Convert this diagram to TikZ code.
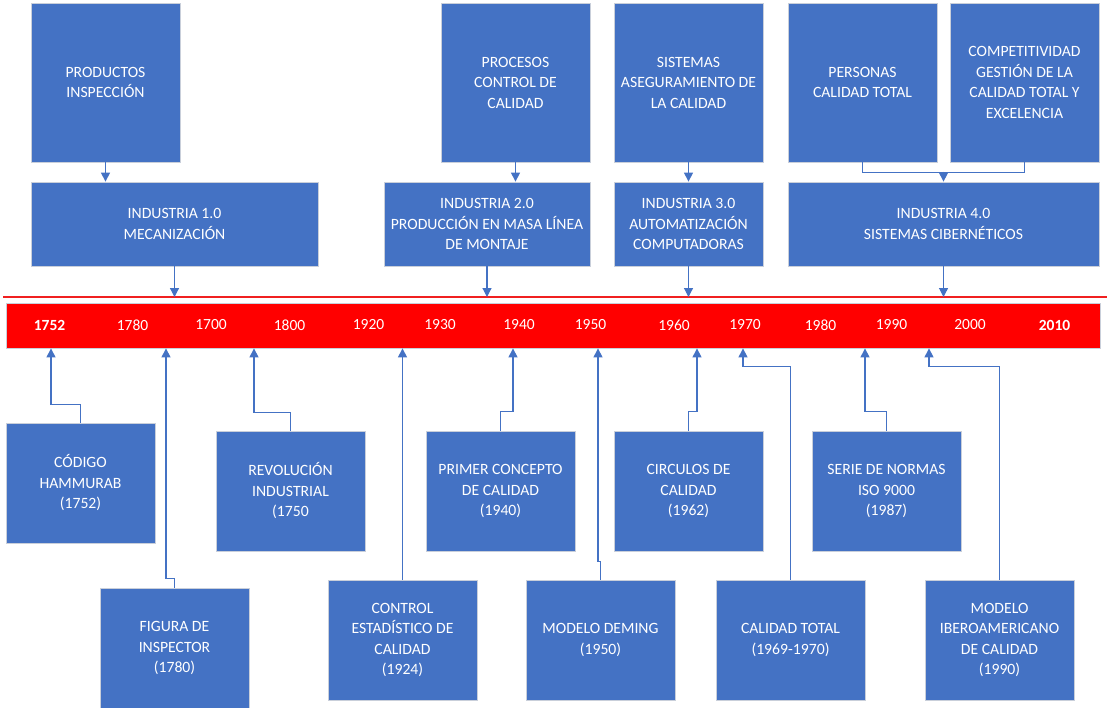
\documentclass[tikz,border=0pt]{standalone}
\usepackage{fontspec}
\setmainfont{Carlito}
\usetikzlibrary{arrows.meta,calc}
\definecolor{boxblue}{HTML}{4472C4}
\definecolor{edgegray}{HTML}{C9CFDA}
\definecolor{linered}{HTML}{F02020}
\begin{document}
\begin{tikzpicture}[x=1pt,y=-1pt,
  box/.style={rectangle, fill=boxblue, draw=edgegray, line width=0.8pt, text=white, align=center,
    font=\fontsize{15.7}{20.5}\selectfont, inner sep=2pt},
  topbox/.style={box, minimum width=149pt, minimum height=159pt},
  indbox/.style={box, minimum height=84pt},
  lowbox/.style={box, minimum width=149pt, minimum height=120pt},
  conn/.style={draw=boxblue, line width=1.2pt, -{Triangle[width=9pt,length=9pt]}},
  wire/.style={draw=boxblue, line width=1.2pt},
  yr/.style={text=white, inner sep=0pt, font=\fontsize{15.5}{18}\selectfont}
]
\useasboundingbox (0,0) rectangle (1107,707);

% top boxes
\node[topbox] (p1) at (105.5,82.5) {PRODUCTOS\\INSPECCIÓN};
\node[topbox] (p2) at (515.5,82.5) {PROCESOS\\CONTROL DE\\CALIDAD};
\node[topbox] (p3) at (688.5,82.5) {SISTEMAS\\ASEGURAMIENTO DE\\LA CALIDAD};
\node[topbox] (p4) at (862.5,82.5) {PERSONAS\\CALIDAD TOTAL};
\node[topbox] (p5) at (1024.5,82.5) {COMPETITIVIDAD\\GESTIÓN DE LA\\CALIDAD TOTAL Y\\EXCELENCIA};

% industry boxes
\node[indbox, minimum width=287pt] (i1) at (174.5,224) {INDUSTRIA 1.0\\MECANIZACIÓN};
\node[indbox, minimum width=206pt] (i2) at (487,224) {INDUSTRIA 2.0\\PRODUCCIÓN EN MASA LÍNEA\\DE MONTAJE};
\node[indbox, minimum width=149pt] (i3) at (688.5,224) {INDUSTRIA 3.0\\AUTOMATIZACIÓN\\COMPUTADORAS};
\node[indbox, minimum width=311pt] (i4) at (943.5,224) {INDUSTRIA 4.0\\SISTEMAS CIBERNÉTICOS};

% red line and bar
\coordinate (rlA) at (3,297);
\coordinate (rlB) at (1107,297);
\draw[linered, line width=1.4pt] (rlA) -- (rlB);
\node[rectangle, fill=red, draw=edgegray, line width=0.8pt, minimum width=1094pt, minimum height=45pt, inner sep=0pt] (bar) at (553,325.5) {};

% years
\node[yr] (y1) at (49.5,325) {\textbf{1752}};
\node[yr] (y2) at (132.5,325) {1780};
\node[yr] (y3) at (211,325) {1700};
\node[yr] (y4) at (289.5,325) {1800};
\node[yr] (y5) at (368.5,325) {1920};
\node[yr] (y6) at (440,325) {1930};
\node[yr] (y7) at (519,325) {1940};
\node[yr] (y8) at (590.5,325) {1950};
\node[yr] (y9) at (674,325) {1960};
\node[yr] (y10) at (745,325) {1970};
\node[yr] (y11) at (820.5,325) {1980};
\node[yr] (y12) at (891.5,325) {1990};
\node[yr] (y13) at (970,325) {2000};
\node[yr] (y14) at (1054.5,325) {\textbf{2010}};

% lower boxes
\node[lowbox] (cod) at (80.5,483) {CÓDIGO\\HAMMURAB\\(1752)};
\node[lowbox] (rev) at (290.5,491) {REVOLUCIÓN\\INDUSTRIAL\\(1750};
\node[lowbox] (fig) at (174.5,648) {FIGURA DE\\INSPECTOR\\(1780)};
\node[lowbox] (ctl) at (402.5,640) {CONTROL\\ESTADÍSTICO DE\\CALIDAD\\(1924)};
\node[lowbox] (pri) at (500.5,491) {PRIMER CONCEPTO\\DE CALIDAD\\(1940)};
\node[lowbox] (dem) at (600.5,640) {MODELO DEMING\\(1950)};
\node[lowbox] (cir) at (688.5,491) {CIRCULOS DE\\CALIDAD\\(1962)};
\node[lowbox] (ct) at (790.5,640) {CALIDAD TOTAL\\(1969-1970)};
\node[lowbox] (iso) at (886.5,491) {SERIE DE NORMAS\\ISO 9000\\(1987)};
\node[lowbox] (ibe) at (999.5,640) {MODELO\\IBEROAMERICANO\\DE CALIDAD\\(1990)};

% top connectors
\draw[conn] (p1.south) -- (p1.south |- i1.north);
\draw[conn] (p2.south) -- (p2.south |- i2.north);
\draw[conn] (p3.south) -- (p3.south |- i3.north);
\draw[wire] (p4.south) |- ($(p5.south)+(0,10)$) -- (p5.south);
\draw[conn] ($(i4.north)+(0,-10)$) -- (i4.north);

% industry to line
\draw[conn] (i1.south) -- (i1.south |- rlA);
\draw[conn] (i2.south) -- (i2.south |- rlA);
\draw[conn] (i3.south) -- (i3.south |- rlA);
\draw[conn] (i4.south) -- (i4.south |- rlA);

% lower connectors
\draw[conn] (cod.north) -- ++(0,-18) -| (51,0 |- bar.south);
\draw[conn] (rev.north) -- ++(0,-18) -| (254,0 |- bar.south);
\draw[conn] (fig.north) -- ++(0,-9) -| (166,0 |- bar.south);
\draw[conn] (ctl.north) -- (ctl.north |- bar.south);
\draw[conn] (pri.north) -- ++(0,-19) -| (513,0 |- bar.south);
\draw[conn] (dem.north) -- ++(0,-18) -| (598,0 |- bar.south);
\draw[conn] (cir.north) -- ++(0,-19) -| (697,0 |- bar.south);
\draw[conn] (ct.north) -- ++(0,-213) -| (743,0 |- bar.south);
\draw[conn] (iso.north) -- ++(0,-19) -| (865,0 |- bar.south);
\draw[conn] (ibe.north) -- ++(0,-213) -| (929,0 |- bar.south);
\end{tikzpicture}
\end{document}
